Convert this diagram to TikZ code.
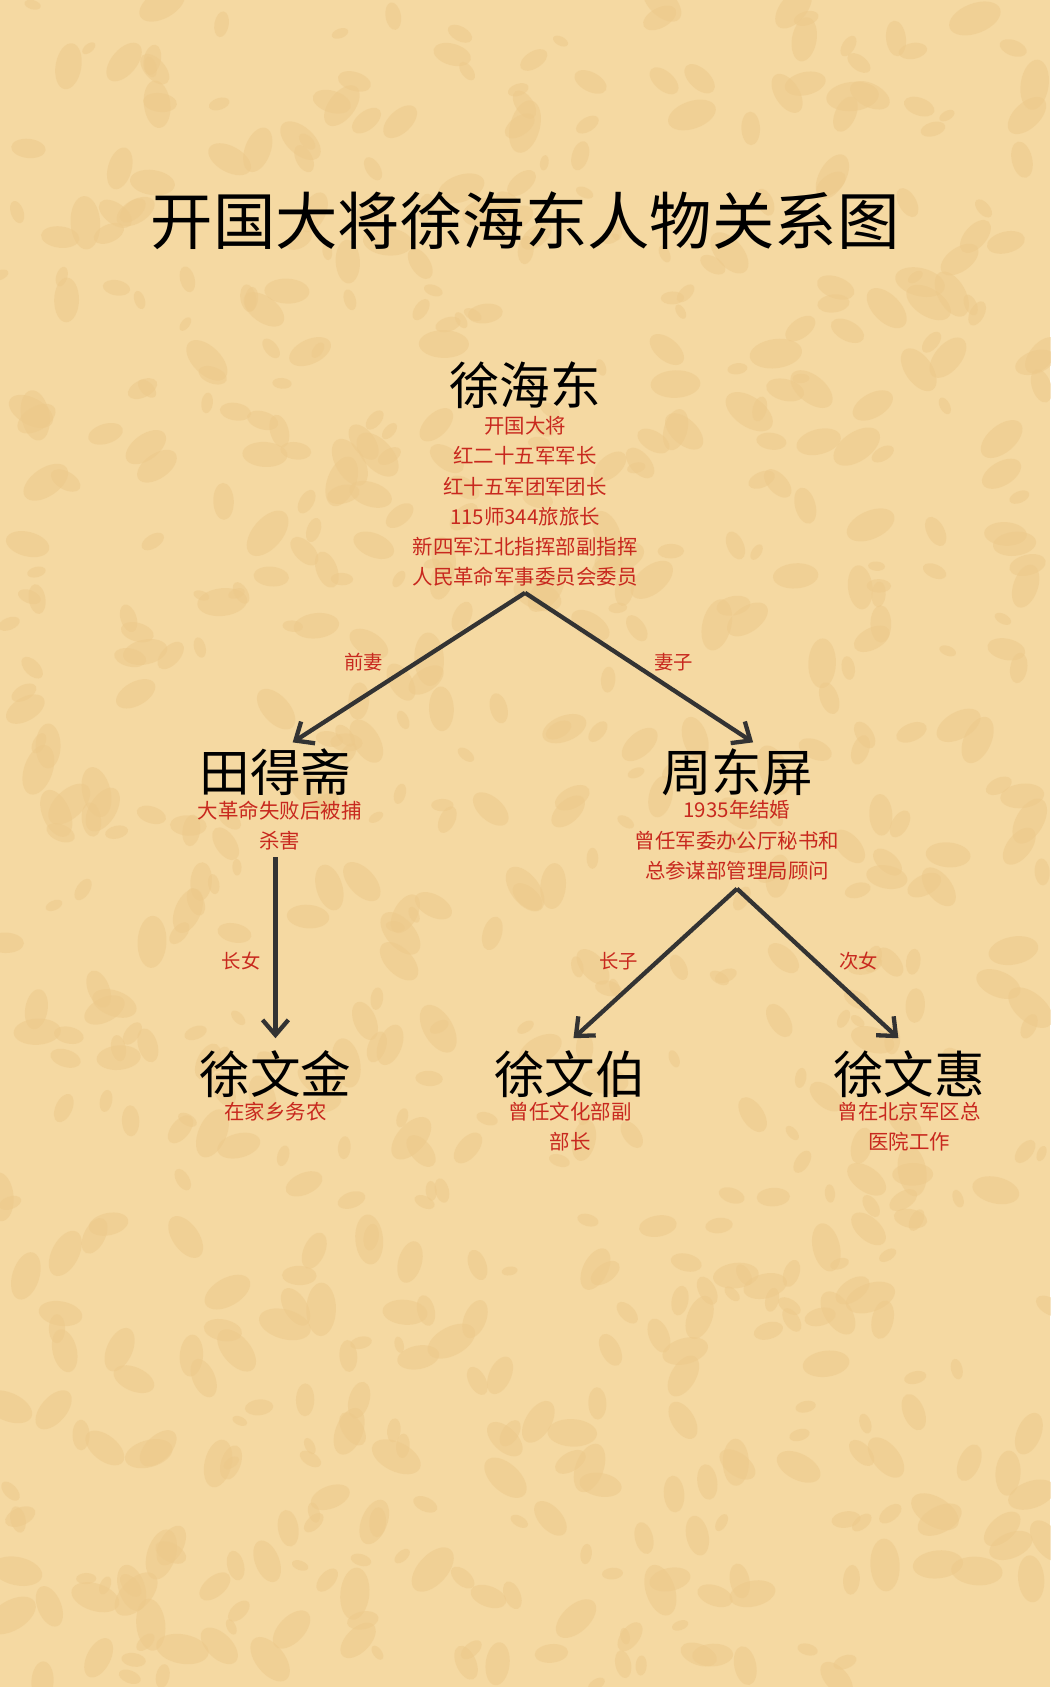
\documentclass[tikz,border=0pt]{standalone}
\usepackage{fontspec}
\setmainfont{Noto Sans CJK SC}
\usetikzlibrary{arrows.meta}
\definecolor{bg}{HTML}{F5D9A2}
\definecolor{bgd}{HTML}{EDC98A}
\definecolor{red}{HTML}{C8281E}
\definecolor{ink}{HTML}{333333}
\tikzset{
  pname/.style={font=\fontsize{47}{50}\selectfont, text=black, inner sep=0pt},
  info/.style={font=\fontsize{19}{28}\selectfont, text=red, align=center, inner sep=0pt},
  rel/.style={font=\fontsize{18}{20}\selectfont, text=red, inner sep=0pt},
  link/.style={draw=ink, line width=4pt, -{Straight Barb[length=14pt,width=24pt,line width=4pt]}}
}
\begin{document}
\begin{tikzpicture}[x=1pt,y=-1pt]
\fill[bg] (0,0) rectangle (976,1568);
\useasboundingbox (0,0) rectangle (976,1568);
\pgfmathsetseed{12345}
\foreach \i in {1,...,700}{
  \pgfmathsetmacro\xx{976*rnd}
  \pgfmathsetmacro\yy{1568*rnd}
  \pgfmathsetmacro\rr{4+10*rnd}
  \pgfmathsetmacro\rot{180*rnd}
  \fill[bgd,opacity=0.5,rotate around={\rot:(\xx,\yy)}] (\xx,\yy) ellipse ({\rr*1.8} and \rr);
}
\node[font=\fontsize{58}{62}\selectfont, inner sep=0pt] (title) at (488,205) {开国大将徐海东人物关系图};

\node[pname] (xhd) at (488,358) {徐海东};
\node[info, anchor=north] (xhdi) at (488,387) {开国大将\\红二十五军军长\\红十五军团军团长\\115师344旅旅长\\新四军江北指挥部副指挥\\人民革命军事委员会委员};
\coordinate (top) at (488,551);

\node[pname] (tds) at (256,718) {田得斋};
\node[info, anchor=north] (tdsi) at (260,744) {大革命失败后被捕\\杀害};
\node[pname] (zdp) at (685,718) {周东屏};
\node[info, anchor=north] (zdpi) at (685,744) {1935年结婚\\曾任军委办公厅秘书和\\总参谋部管理局顾问};

\node[pname] (xwj) at (256,998) {徐文金};
\node[info, anchor=north] (xwji) at (256,1024) {在家乡务农};
\node[pname] (xwb) at (530,998) {徐文伯};
\node[info, anchor=north] (xwbi) at (530,1024) {曾任文化部副\\部长};
\node[pname] (xwh) at (845,998) {徐文惠};
\node[info, anchor=north] (xwhi) at (845,1024) {曾在北京军区总\\医院工作};

\coordinate (tdsb) at (256,797);
\coordinate (zdpb) at (685,826);
\coordinate (tdst) at (272,690);
\coordinate (zdpt) at (700,690);
\coordinate (xwjt) at (256,965);
\coordinate (xwbt) at (533,965);
\coordinate (xwht) at (835,965);

\draw[link] (top) -- (tdst);
\draw[link] (top) -- (zdpt);
\draw[link] (tdsb) -- (xwjt);
\draw[link] (zdpb) -- (xwbt);
\draw[link] (zdpb) -- (xwht);

\node[rel] at (338,615) {前妻};
\node[rel] at (626,615) {妻子};
\node[rel] at (224,893) {长女};
\node[rel] at (575,893) {长子};
\node[rel] at (798,893) {次女};
\end{tikzpicture}
\end{document}
